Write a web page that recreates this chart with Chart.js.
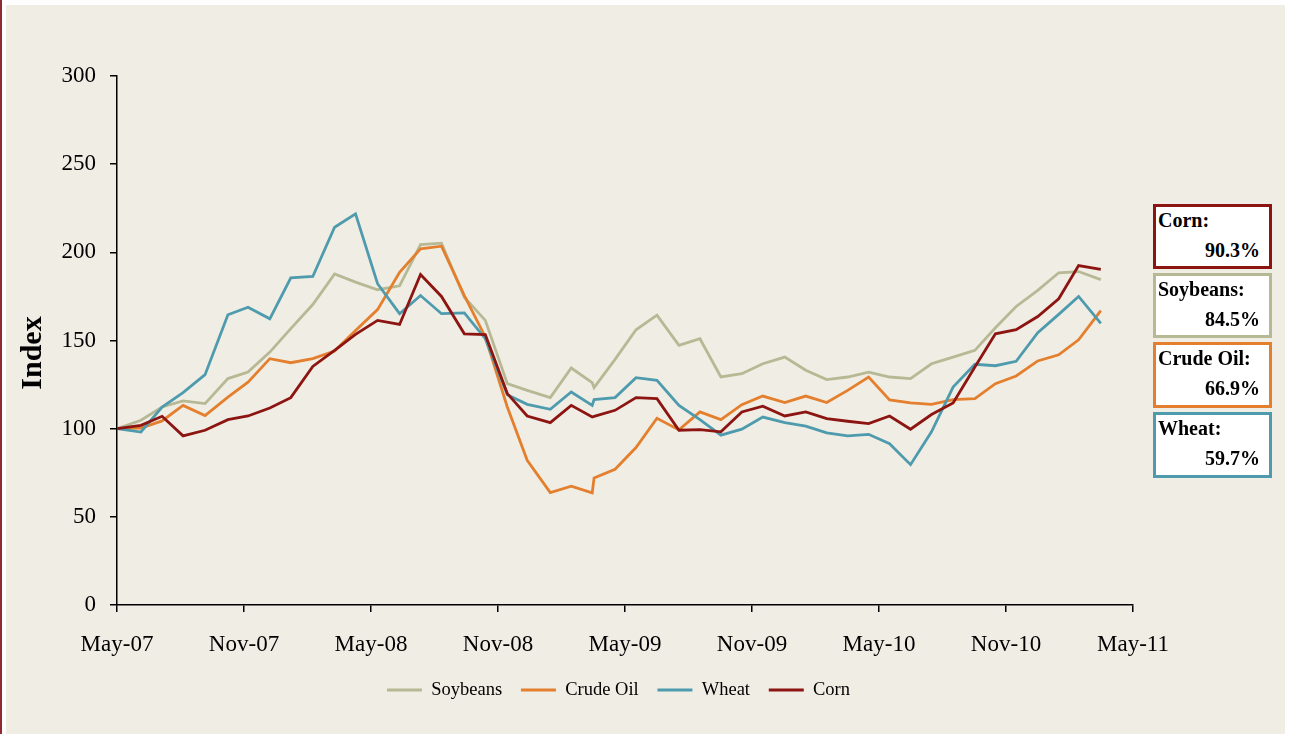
<!DOCTYPE html>
<html>
<head>
<meta charset="utf-8">
<script src="https://cdn.jsdelivr.net/npm/chart.js@4.4.1/dist/chart.umd.min.js"></script>
<style>
html,body{margin:0;padding:0;background:#fff;width:1289px;height:734px;overflow:hidden;position:relative;}
#frame{position:absolute;left:6px;top:5px;width:1279px;height:729px;background:#F0EDE5;}
#edge{position:absolute;left:0;top:0;width:2px;height:734px;background:#8F2B30;}
#c{position:absolute;left:0;top:0;}
#ytitle{position:absolute;left:-18px;top:335px;width:100px;height:36px;line-height:36px;text-align:center;
  font:bold 30px 'Liberation Serif','Times New Roman',serif;color:#000;transform:rotate(-90deg);transform-origin:50% 50%;}
.box{position:absolute;left:1153px;width:119px;height:65px;box-sizing:border-box;border:3px solid #000;background:#fff;
  font:bold 20px 'Liberation Serif','Times New Roman',serif;color:#000;line-height:30px;}
.box .n{padding-left:2px;position:relative;top:-2px;white-space:nowrap;}
.box .v{text-align:right;padding-right:9px;position:relative;top:-2px;}
</style>
</head>
<body>
<div id="frame"></div>
<div id="edge"></div>
<canvas id="c" width="1289" height="734"></canvas>
<div id="ytitle">Index</div>
<div id="boxes"></div>
<script>
// x positions: months elapsed since May-07 (observation dates)
const monthIndex = [0, 1.13, 2.13, 3.12, 4.16, 5.24, 6.19, 7.22, 8.21, 9.25, 10.28, 11.27,
  12.31, 13.35, 14.34, 15.33, 16.41, 17.40, 18.44, 19.38, 20.47, 21.46, 22.45, 22.54,
  23.53, 24.52, 25.51, 26.55, 27.54, 28.53, 29.52, 30.51, 31.55, 32.54, 33.53, 34.52,
  35.51, 36.50, 37.49, 38.48, 39.50, 40.53, 41.50, 42.48, 43.50, 44.49, 45.43, 46.48];

const tickLabels = ['May-07','Nov-07','May-08','Nov-08','May-09','Nov-09','May-10','Nov-10','May-11'];

const soybeans = [100, 104.8, 112.3, 115.7, 114.2, 128.4, 132.1, 143.4, 156.7, 170.4, 187.8, 183.1,
  178.8, 181.0, 204.4, 205.2, 174.6, 161.4, 125.5, 121.7, 117.6, 134.4, 126.1, 123.3,
  139.3, 156.1, 164.4, 147.2, 151.0, 129.3, 131.2, 136.8, 140.6, 133.1, 127.8, 129.3,
  132.1, 129.3, 128.4, 136.8, 140.6, 144.4, 157.2, 169.3, 178.4, 188.4, 189.1, 184.5];

const crudeOil = [100, 100.3, 104.4, 113.2, 107.4, 117.9, 126.4, 139.7, 137.4, 139.7, 144.0, 155.7,
  167.5, 188.7, 202.0, 203.5, 175.5, 152.0, 112.3, 82.1, 63.8, 67.4, 63.6, 72.1,
  77.0, 89.3, 105.9, 99.3, 109.5, 105.1, 113.6, 118.5, 114.8, 118.5, 114.8, 121.7,
  129.3, 116.3, 114.6, 113.8, 116.5, 117.0, 125.5, 129.9, 138.4, 141.9, 150.4, 166.9];

const wheat = [100, 98.1, 112.3, 120.4, 130.6, 164.6, 168.9, 162.3, 185.5, 186.3, 214.2, 221.8,
  182.2, 165.2, 175.5, 165.2, 165.7, 151.0, 119.3, 113.8, 111.0, 120.8, 113.2, 116.5,
  117.6, 128.9, 127.4, 113.2, 105.1, 96.3, 99.7, 106.6, 103.4, 101.4, 97.6, 95.9,
  96.8, 91.5, 79.6, 98.2, 123.6, 136.5, 135.7, 138.2, 154.4, 164.8, 175.0, 159.7];

const corn = [100, 101.9, 107.0, 95.9, 99.1, 105.1, 107.2, 111.7, 117.6, 135.3, 144.4, 153.5,
  161.4, 159.1, 187.4, 175.0, 153.8, 153.3, 119.9, 107.2, 103.4, 113.2, 106.6, 107.0,
  110.4, 117.6, 117.0, 99.1, 99.5, 98.2, 109.5, 112.7, 107.2, 109.5, 105.7, 104.2,
  102.9, 107.2, 99.7, 108.0, 114.6, 135.0, 153.8, 156.1, 163.6, 173.7, 192.5, 190.3];

const seriesNames = ['Soybeans', 'Crude Oil', 'Wheat', 'Corn'];
const seriesValues = [soybeans, crudeOil, wheat, corn];
const seriesColors = ['#B6B994', '#E47F2E', '#4F9BAE', '#8C1511'];

const SERIF = "'Liberation Serif','Times New Roman',serif";

const datasets = seriesNames.map((name, k) => ({
  label: name,
  data: monthIndex.map((m, i) => ({ x: m, y: seriesValues[k][i] })),
  borderColor: seriesColors[k],
  backgroundColor: seriesColors[k],
  borderWidth: 2.8,
  pointRadius: 0,
  tension: 0,
  fill: false,
  order: seriesNames.length - k
}));

// nudge the legend so it is centred where the original places it
const legendShift = {
  id: 'legendShift',
  beforeDraw(chart) {
    const lg = chart.legend;
    if (lg && !lg._shifted) { lg.left -= 6.5; lg.right -= 6.5; lg._shifted = true; }
  }
};

new Chart(document.getElementById('c'), {
  type: 'line',
  data: { datasets },
  plugins: [legendShift],
  options: {
    responsive: false,
    animation: false,
    devicePixelRatio: 1,
    layout: { padding: { left: 0, right: 156, top: 76, bottom: 24.7 } },
    plugins: {
      tooltip: { enabled: false },
      legend: {
        position: 'bottom',
        fullSize: false,
        labels: {
          font: { family: SERIF, size: 18.5 },
          color: '#000',
          boxWidth: 35,
          boxHeight: 3,
          padding: 18.8,
          sort: (a, b) => a.datasetIndex - b.datasetIndex,
          generateLabels: (chart) => Chart.defaults.plugins.legend.labels.generateLabels(chart)
            .map(l => Object.assign(l, { lineWidth: 0 }))
        }
      }
    },
    scales: {
      x: {
        type: 'linear',
        min: 0,
        max: 48,
        afterFit: (s) => { s.height = 57; },
        ticks: {
          stepSize: 6,
          autoSkip: false,
          maxRotation: 0,
          callback: (v) => tickLabels[Math.round(v / 6)],
          font: { family: SERIF, size: 23 },
          color: '#000',
          padding: 19
        },
        grid: { drawOnChartArea: false, drawTicks: true, tickLength: 7, color: '#000', lineWidth: 1.5 },
        border: { display: true, color: '#000', width: 1.5 }
      },
      y: {
        min: 0,
        max: 300,
        afterFit: (s) => { s.width = 117; },
        ticks: {
          stepSize: 50,
          font: { family: SERIF, size: 23 },
          color: '#000',
          padding: 14
        },
        grid: { drawOnChartArea: false, drawTicks: true, tickLength: 7, color: '#000', lineWidth: 1.5 },
        border: { display: true, color: '#000', width: 1.5 }
      }
    }
  }
});

// Change boxes (percent change from start), sorted descending
const boxTops = [204, 273, 342, 412];
const changes = seriesNames.map((name, k) => {
  const v = seriesValues[k];
  return { name, color: seriesColors[k], pct: (v[v.length - 1] / v[0] - 1) * 100 };
}).sort((a, b) => b.pct - a.pct);
const holder = document.getElementById('boxes');
changes.forEach((c, i) => {
  const d = document.createElement('div');
  d.className = 'box';
  d.style.top = boxTops[i] + 'px';
  d.style.height = (i < 2 ? 65 : 66) + 'px';
  d.style.borderColor = c.color;
  d.innerHTML = '<div class="n">' + c.name + ':</div><div class="v">' + c.pct.toFixed(1) + '%</div>';
  holder.appendChild(d);
});
</script>
</body>
</html>
